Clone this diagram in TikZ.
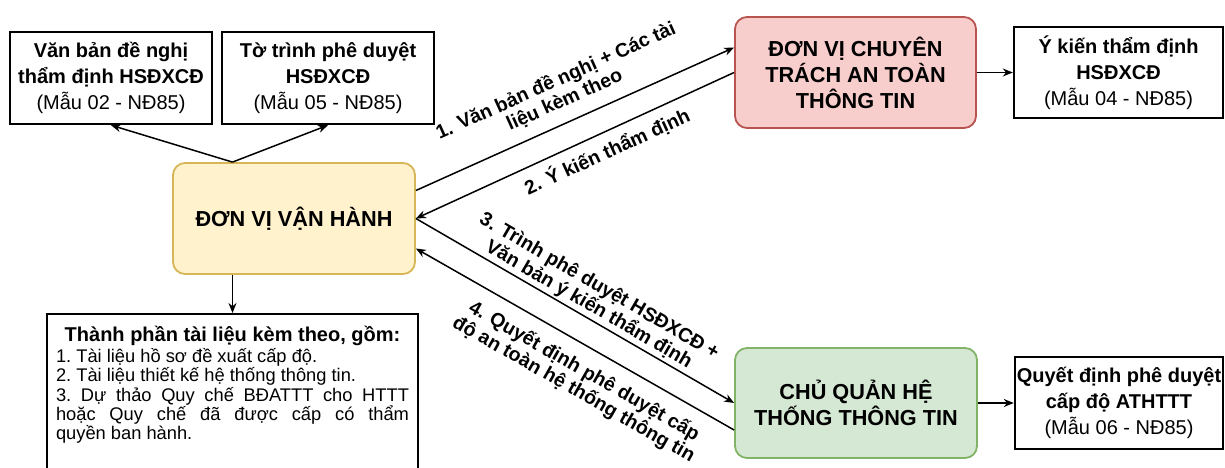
\documentclass[tikz,border=0pt]{standalone}
\usepackage{fontspec}
\setmainfont{Liberation Sans}
\usetikzlibrary{arrows.meta,calc}
\definecolor{yfill}{HTML}{FFF2CC}
\definecolor{ybord}{HTML}{D6B656}
\definecolor{rfill}{HTML}{F8CECC}
\definecolor{rbord}{HTML}{B85450}
\definecolor{gfill}{HTML}{D5E8D4}
\definecolor{gbord}{HTML}{82B366}
\begin{document}
\begin{tikzpicture}[x=1pt,y=-1pt,
  >={Stealth[length=10pt,width=8pt]},
  wbox/.style={draw=black, line width=2.4pt, fill=white, inner sep=0pt, align=center, font=\fontsize{20}{26}\selectfont},
  cbox/.style={rounded corners=12pt, line width=1.8pt, inner sep=0pt, align=center, font=\bfseries\fontsize{21.7}{26}\selectfont},
  conn/.style={line width=1.5pt},
  elabel/.style={font=\bfseries\fontsize{19.5}{21}\selectfont, align=center, sloped, inner sep=0pt}
]
\useasboundingbox (0,0) rectangle (1225,468);
\node[cbox, draw=ybord, fill=yfill, minimum width=242pt, minimum height=111pt] (yel) at (294,218.5) {ĐƠN VỊ VẬN HÀNH};
\node[cbox, draw=rbord, fill=rfill, minimum width=241pt, minimum height=111pt] (red) at (855.5,72.5) {ĐƠN VỊ CHUYÊN\\TRÁCH AN TOÀN\\THÔNG TIN};
\node[cbox, draw=gbord, fill=gfill, minimum width=242pt, minimum height=110pt] (grn) at (856,403) {CHỦ QUẢN HỆ\\THỐNG THÔNG TIN};
\node[wbox, minimum width=202pt, minimum height=92pt] (b1) at (111,78) {\textbf{Văn bản đề nghị}\\\textbf{thẩm định HSĐXCĐ}\\(Mẫu 02 - NĐ85)};
\node[wbox, minimum width=212pt, minimum height=92pt] (b2) at (328,78) {\textbf{Tờ trình phê duyệt}\\\textbf{HSĐXCĐ}\\(Mẫu 05 - NĐ85)};
\node[wbox, minimum width=209pt, minimum height=91pt] (b3) at (1118.5,72.5) {\textbf{Ý kiến thẩm định}\\\textbf{HSĐXCĐ}\\(Mẫu 04 - NĐ85)};
\node[wbox, minimum width=208pt, minimum height=92pt] (b4) at (1119,403) {\textbf{Quyết định phê duyệt}\\\textbf{cấp độ ATHTTT}\\(Mẫu 06 - NĐ85)};
\node[draw, line width=2.4pt, fill=white, anchor=north, inner xsep=9pt, inner ysep=12pt, font=\fontsize{18.3}{19.3}\selectfont] (lst) at (232.5,313) {\parbox[t][150pt][t]{353pt}{\hyphenpenalty=10000\exhyphenpenalty=10000\frenchspacing
{\centering\bfseries\fontsize{20}{21}\selectfont Thành phần tài liệu kèm theo, gồm:\par}\vspace{1.7pt}
1. Tài liệu hồ sơ đề xuất cấp độ.\par
2. Tài liệu thiết kế hệ thống thông tin.\par
3. Dự thảo Quy chế BĐATTT cho HTTT hoặc Quy chế đã được cấp có thẩm\linebreak quyền ban hành.}};
\coordinate (apex) at (lst.north |- yel.north);
\draw[conn,->] (apex) -- (b1.south);
\draw[conn,->] (apex) -- (b2.south);
\draw[conn,->] (lst.north |- yel.south) -- (lst.north);
\draw[conn,->] ([yshift=28pt]yel.east) -- node[elabel, pos=0.495, yshift=32pt]{1. Văn bản đề nghị + Các tài\\liệu kèm theo} ([yshift=25pt]red.west);
\draw[conn,<-] (yel.east) -- node[elabel, pos=0.576, yshift=-19pt]{2. Ý kiến thẩm định} (red.west);
\draw[conn,->] (yel.east) -- node[elabel, pos=0.524, yshift=22.5pt]{3. Trình phê duyệt HSĐXCĐ +\\Văn bản ý kiến thẩm định} (grn.west);
\draw[conn,<-] ([yshift=-30pt]yel.east) -- node[elabel, pos=0.565, yshift=-34pt]{4. Quyết định phê duyệt cấp\\độ an toàn hệ thống thông tin} ([yshift=-27pt]grn.west);
\draw[conn,->] (red.east) -- (b3.west);
\draw[conn,->] (grn.east) -- (b4.west);
\end{tikzpicture}
\end{document}
